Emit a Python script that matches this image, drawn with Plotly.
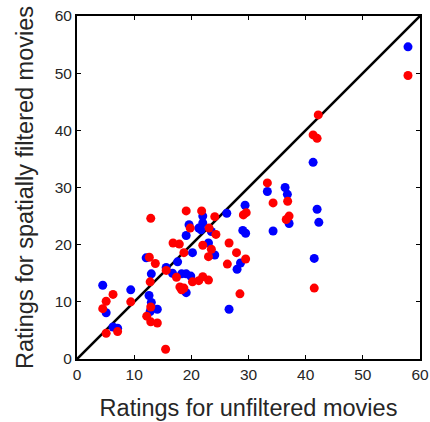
import plotly.graph_objects as go

blue_x = [4.5, 5.1, 6.3, 7.1, 9.4, 12.1, 13.0, 12.6, 13.0, 14.05, 12.8, 15.6, 17.6, 16.7, 18.3,
          19.1, 19.9, 19.1, 19.1, 19.6, 20.2, 21.3, 21.7, 22.0, 22.0, 23.0, 23.5, 24.1, 26.2,
          29.4, 29.0, 29.5, 28.6, 28.0, 26.6, 33.3, 36.4, 36.8, 37.1, 34.3, 41.3, 42.0, 42.3,
          41.5, 57.9]
blue_y = [12.9, 8.1, 5.6, 5.4, 12.1, 17.7, 14.9, 11.1, 9.9, 8.7, 8.3, 16.0, 17.0, 15.0, 14.9,
          14.9, 14.5, 11.6, 21.6, 23.5, 18.6, 22.9, 22.6, 23.8, 25.0, 20.3, 22.3, 18.2, 25.5,
          26.9, 22.5, 22.0, 16.8, 15.7, 8.7, 29.3, 30.0, 28.8, 23.7, 22.4, 34.4, 26.2, 23.9,
          17.6, 54.6]

red_x = [4.5, 5.1, 6.3, 9.4, 7.1, 5.1, 15.5, 12.65, 13.7, 12.8, 12.9, 12.2, 12.9, 14.05, 15.6,
         17.4, 12.9, 19.1, 21.8, 24.1, 29.1, 29.6, 19.8, 23.1, 24.3, 16.8, 17.9, 22.0, 23.5,
         26.6, 18.7, 23.0, 27.9, 29.5, 26.3, 20.2, 21.3, 22.0, 23.0, 18.0, 18.7, 18.3, 28.5,
         33.3, 34.3, 36.85, 36.6, 37.1, 42.2, 41.3, 42.0, 41.5, 57.9]
red_y = [8.8, 10.1, 11.3, 10.0, 4.8, 4.5, 1.7, 17.8, 16.7, 13.5, 9.1, 7.5, 6.5, 6.3, 15.5,
         14.3, 24.6, 25.9, 25.9, 24.9, 25.2, 25.6, 22.9, 22.9, 21.8, 20.3, 20.1, 19.9, 19.2,
         20.3, 18.6, 17.9, 18.6, 17.5, 16.6, 13.5, 13.7, 14.4, 13.8, 12.6, 12.4, 12.1, 11.4,
         30.8, 27.3, 27.6, 24.4, 25.0, 42.7, 39.2, 38.6, 12.4, 49.6]

diag = [0, 60]
ticks = [0, 10, 20, 30, 40, 50, 60]

fig = go.Figure()
fig.add_trace(go.Scatter(x=diag, y=diag, mode="lines",
                         line=dict(color="black", width=2.6), hoverinfo="skip"))
fig.add_trace(go.Scatter(x=blue_x, y=blue_y, mode="markers",
                         marker=dict(color="#0000FF", size=9, line=dict(width=0))))
fig.add_trace(go.Scatter(x=red_x, y=red_y, mode="markers",
                         marker=dict(color="#FF0000", size=9, line=dict(width=0))))

axis_common = dict(range=[0, 60], tickvals=ticks, ticks="inside", ticklen=4, tickwidth=1,
                   tickcolor="black", showline=True, linecolor="black", linewidth=2,
                   mirror="ticks", showgrid=False, zeroline=False, automargin=False,
                   tickfont=dict(family="Liberation Sans, Arial", size=15.5, color="#262626"))

fig.update_layout(
    width=430, height=422,
    margin=dict(l=77, r=10, t=16, b=63),
    paper_bgcolor="white", plot_bgcolor="white",
    showlegend=False,
    xaxis=dict(**axis_common,
               title=dict(text="Ratings for unfiltered movies", standoff=18,
                          font=dict(family="Liberation Sans, Arial", size=23.5, color="#262626"))),
    yaxis=dict(**axis_common,
               title=dict(text="Ratings for spatially filtered movies", standoff=14,
                          font=dict(family="Liberation Sans, Arial", size=23.5, color="#262626"))),
)

fig.write_html("out.html")
